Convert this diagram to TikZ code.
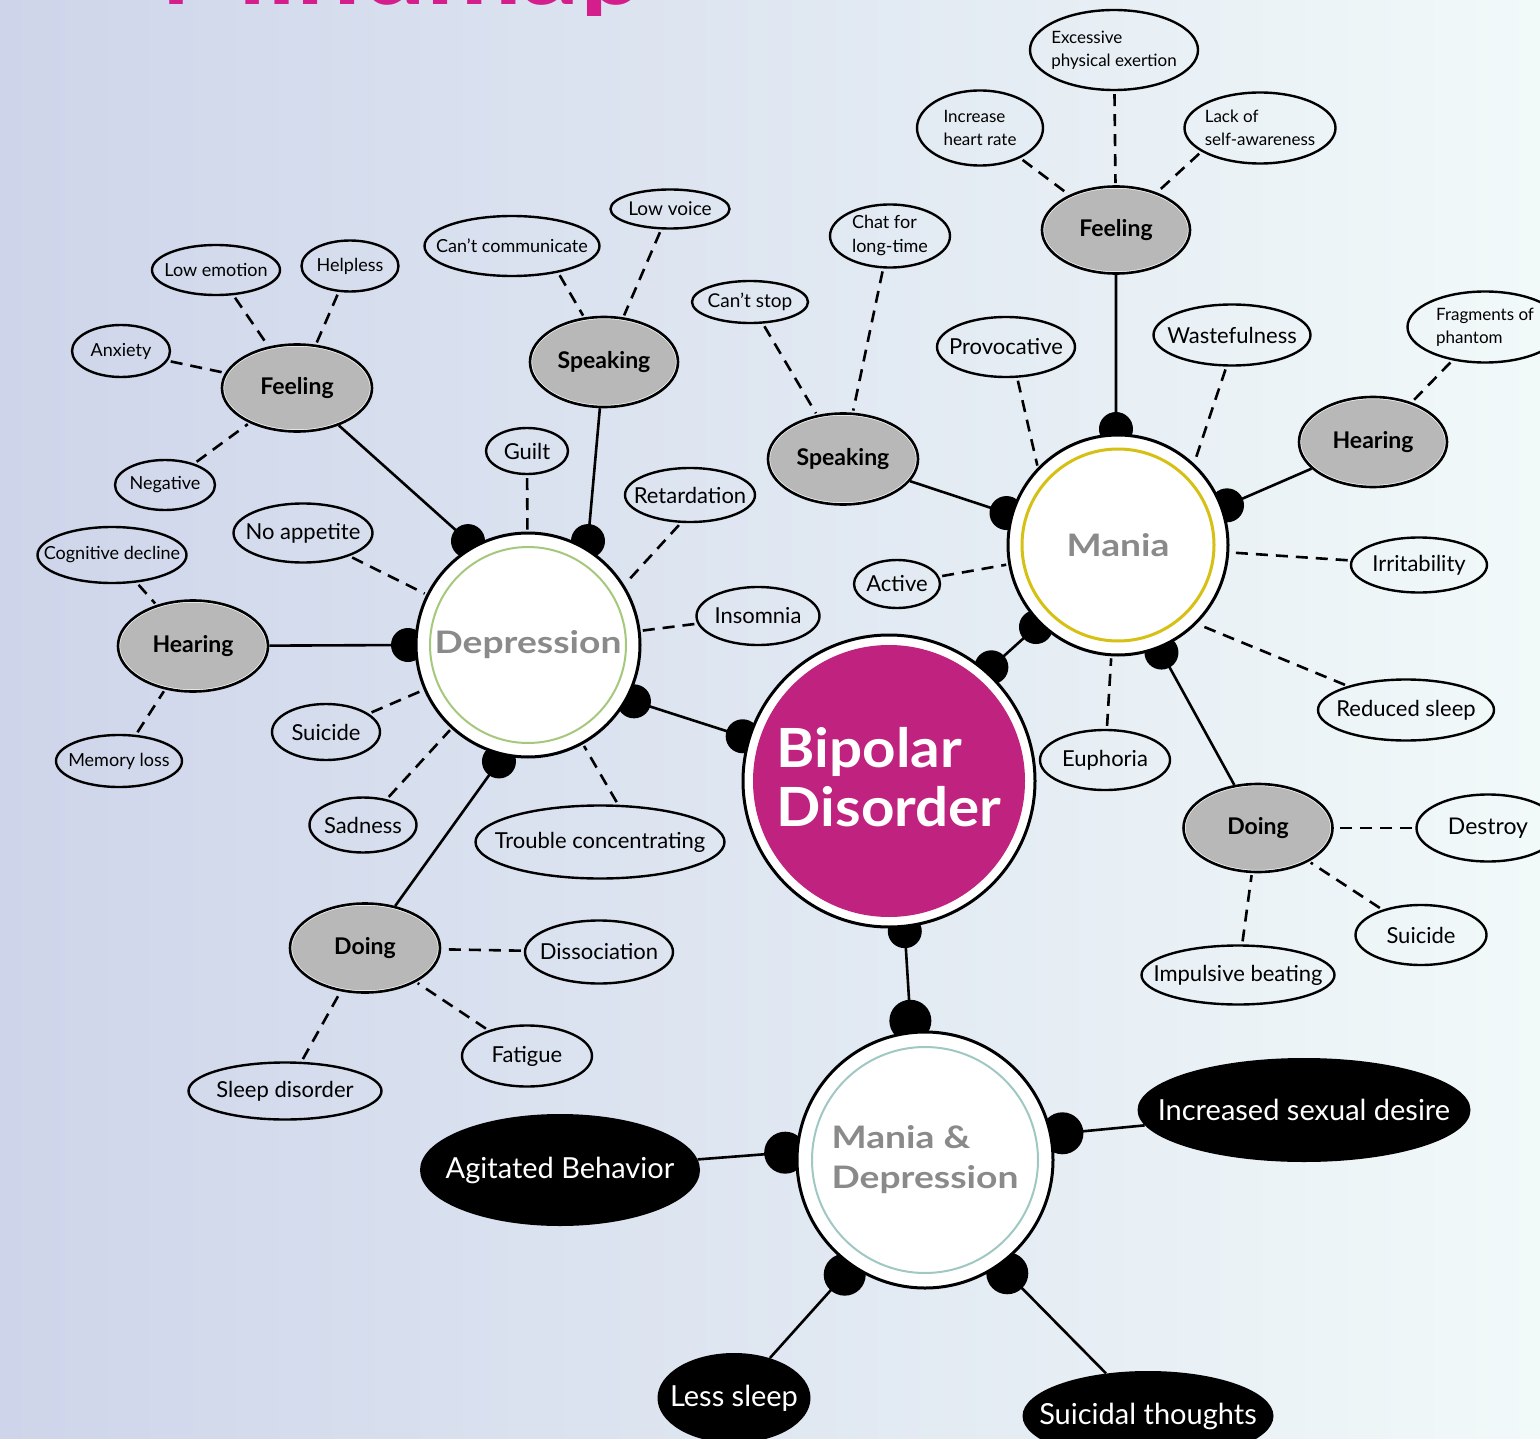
\documentclass[tikz,border=0pt]{standalone}
\usepackage{fontspec}
\usepackage{graphicx}
\setmainfont{Lato}
\usetikzlibrary{shapes.geometric,calc}

\definecolor{bgleft}{RGB}{206,213,234}
\definecolor{bgmid}{RGB}{223,237,243}
\definecolor{bgright}{RGB}{241,249,249}
\definecolor{subgray}{RGB}{184,184,184}
\definecolor{hubgray}{RGB}{138,138,138}
\definecolor{bipmag}{RGB}{192,34,128}
\definecolor{titlemag}{RGB}{212,30,140}
\definecolor{ringgreen}{RGB}{165,200,125}
\definecolor{ringyellow}{RGB}{214,192,20}
\definecolor{ringteal}{RGB}{160,200,195}

\pgfdeclarelayer{bg}
\pgfdeclarelayer{links}
\pgfsetlayers{bg,links,main}

% wide bold hub lettering
\newcommand\widehub[1]{\scalebox{1.2}[1]{#1}}

\tikzset{
  hub/.style={circle, draw=black, fill=white, line width=3pt, inner sep=0pt, text=hubgray},
  sub/.style={ellipse, draw=black, fill=subgray, line width=2.6pt, inner sep=-300pt,
    font=\bfseries\fontsize{23}{26}\selectfont,
    path picture={\draw[white, line width=4pt]
      let \p1=(path picture bounding box.north east), \p2=(path picture bounding box.center)
      in (\p2) ellipse ({\x1-\x2} and {\y1-\y2});}},
  leaf/.style={ellipse, draw=black, line width=2.4pt, inner sep=-300pt, align=left,
    font=\fontsize{22}{25}\selectfont},
  small/.style={font=\fontsize{18}{21}\selectfont},
  tiny/.style={font=\fontsize{17}{23}\selectfont},
  sym/.style={ellipse, fill=black, text=white, inner sep=-300pt, font=\fontsize{29}{32}\selectfont},
  link/.style={line width=2.6pt},
  dashlink/.style={line width=2.6pt, dash pattern=on 12pt off 8pt, shorten <=3pt, shorten >=2pt},
  knob/.style={fill=black},
}

\begin{document}
\begin{tikzpicture}[x=1pt, y=-1pt]
\useasboundingbox (0,0) rectangle (1540,1439);
\begin{pgfonlayer}{bg}
  \shade[left color=bgleft, middle color=bgmid, right color=bgright] (0,0) rectangle (1540,1439);
\end{pgfonlayer}
\clip (0,0) rectangle (1540,1439);

% heading, cut by the upper edge
\begin{scope}
  \clip (0,0) rectangle (1540,16);
  \node[anchor=base west, inner sep=0pt, text=titlemag,
    font=\bfseries\fontsize{110}{110}\selectfont] (title) at (160,5) {\scalebox{1.04}[1]{Mindmap}};
\end{scope}

% ---------- hubs ----------
\node[hub, minimum size=292pt, text=white,
  path picture={\fill[bipmag] (path picture bounding box.center) circle (136pt);},
  font=\bfseries\fontsize{54}{59}\selectfont] (bip) at (889,781)
  {\scalebox{1.08}[1]{\begin{tabular}{@{}l@{}}\rule{0pt}{49pt}Bipolar\\Disorder\end{tabular}}};
\node[hub, minimum size=224pt,
  path picture={\draw[ringgreen, line width=2pt] (path picture bounding box.center) circle (98pt);},
  font=\bfseries\fontsize{31}{36}\selectfont] (dep) at (528,645) {\widehub{Depression}};
\node[hub, minimum size=220pt,
  path picture={\draw[ringyellow, line width=3pt] (path picture bounding box.center) circle (96pt);},
  font=\bfseries\fontsize{31}{36}\selectfont] (mania) at (1118,545) {\widehub{Mania}};
\node[hub, minimum size=256pt,
  path picture={\draw[ringteal, line width=2pt] (path picture bounding box.center) circle (113pt);},
  font=\bfseries\fontsize{31}{40}\selectfont] (md) at (925,1160)
  {\widehub{\begin{tabular}{@{}l@{}}Mania \&\\Depression\end{tabular}}};

% ---------- depression branches ----------
\node[sub, minimum width=150pt, minimum height=87pt] (feelD) at (297,388) {Feeling};
\node[sub, minimum width=148pt, minimum height=90pt] (speakD) at (604,362) {Speaking};
\node[sub, minimum width=150pt, minimum height=91pt] (hearD) at (193,646) {Hearing};
\node[sub, minimum width=150pt, minimum height=89pt] (doD) at (365,948) {Doing};

\node[leaf, small, minimum width=128pt, minimum height=50pt] (lowemo) at (216,270) {Low emotion};
\node[leaf, small, minimum width=97pt, minimum height=51pt] (helpless) at (350,266) {Helpless};
\node[leaf, small, minimum width=98pt, minimum height=52pt] (anxiety) at (121,351) {Anxiety};
\node[leaf, small, minimum width=100pt, minimum height=50pt] (negative) at (165,485) {Negative};
\node[leaf, small, minimum width=175pt, minimum height=60pt] (cantcomm) at (512,246) {Can’t communicate};
\node[leaf, font=\fontsize{19}{22}\selectfont, minimum width=119pt, minimum height=39pt] (lowvoice) at (670,209) {Low voice};
\node[leaf, minimum width=82pt, minimum height=46pt] (guilt) at (527,451) {Guilt};
\node[leaf, minimum width=130pt, minimum height=54pt] (retard) at (690,495) {Retardation};
\node[leaf, minimum width=139pt, minimum height=59pt] (noapp) at (303,533) {No appetite};
\node[leaf, minimum width=123pt, minimum height=58pt] (insomnia) at (758,616) {Insomnia};
\node[leaf, small, minimum width=149pt, minimum height=56pt] (cogdec) at (112,555) {Cognitive decline};
\node[leaf, small, minimum width=126pt, minimum height=52pt] (memloss) at (119,761) {Memory loss};
\node[leaf, minimum width=108pt, minimum height=56pt] (suicideD) at (326,732) {Suicide};
\node[leaf, minimum width=107pt, minimum height=55pt] (sadness) at (363,825) {Sadness};
\node[leaf, minimum width=249pt, minimum height=73pt] (trouble) at (600,842) {Trouble concentrating};
\node[leaf, minimum width=148pt, minimum height=63pt] (dissoc) at (599,952) {Dissociation};
\node[leaf, minimum width=130pt, minimum height=61pt] (fatigue) at (527,1056) {Fatigue};
\node[leaf, minimum width=193pt, minimum height=57pt] (sleepdis) at (285,1091) {Sleep disorder};

% ---------- mania branches ----------
\node[sub, minimum width=148pt, minimum height=87pt] (feelM) at (1116,230) {Feeling};
\node[sub, minimum width=150pt, minimum height=91pt] (speakM) at (843,459) {Speaking};
\node[sub, minimum width=148pt, minimum height=90pt] (hearM) at (1373,442) {Hearing};
\node[sub, minimum width=149pt, minimum height=88pt] (doM) at (1258,828) {Doing};

\node[leaf, tiny, minimum width=168pt, minimum height=80pt] (excess) at (1114,50) {Excessive\\physical exertion};
\node[leaf, tiny, minimum width=126pt, minimum height=75pt] (heart) at (980,128) {Increase\\heart rate};
\node[leaf, tiny, minimum width=151pt, minimum height=71pt] (lack) at (1260,128) {Lack of\\self-awareness};
\node[leaf, font=\fontsize{18}{24}\selectfont, minimum width=120pt, minimum height=63pt] (chat) at (890,236) {Chat for\\long-time};
\node[leaf, font=\fontsize{19}{22}\selectfont, minimum width=116pt, minimum height=42pt] (cantstop) at (750,302) {Can’t stop};
\node[leaf, minimum width=138pt, minimum height=60pt] (prov) at (1006,347) {Provocative};
\node[leaf, minimum width=157pt, minimum height=61pt] (waste) at (1232,335) {Wastefulness};
\node[leaf, tiny, minimum width=155pt, minimum height=71pt] (fragm) at (1485,327) {Fragments of\\phantom};
\node[leaf, minimum width=86pt, minimum height=48pt] (active) at (897,584) {Active};
\node[leaf, minimum width=136pt, minimum height=55pt] (irrit) at (1419,565) {Irritability};
\node[leaf, minimum width=176pt, minimum height=61pt] (redsleep) at (1406,710) {Reduced sleep};
\node[leaf, minimum width=130pt, minimum height=60pt] (euphoria) at (1105,760) {Euphoria};
\node[leaf, font=\fontsize{23}{26}\selectfont, minimum width=143pt, minimum height=67pt] (destroy) at (1488,828) {Destroy};
\node[leaf, minimum width=131pt, minimum height=60pt] (suicideM) at (1421,935) {Suicide};
\node[leaf, minimum width=193pt, minimum height=59pt] (impulse) at (1238,975) {Impulsive beating};

% ---------- mixed episode ----------
\node[sym, minimum width=280pt, minimum height=112pt] (agit) at (560,1170) {Agitated Behavior};
\node[sym, minimum width=333pt, minimum height=104pt] (sexual) at (1304,1110) {Increased sexual desire};
\node[sym, minimum width=153pt, minimum height=90pt] (lesssleep) at (734,1398) {Less sleep};
\node[sym, minimum width=251pt, minimum height=90pt] (suicidal) at (1148,1416) {Suicidal thoughts};

% ---------- connectors ----------
\begin{pgfonlayer}{links}
  % attachment points on the hub rims
  \coordinate (kDfeel)  at ($(dep.center)+(120:120pt)$);
  \coordinate (kDspeak) at ($(dep.center)+(60:120pt)$);
  \coordinate (kDhear)  at ($(dep.center)+(180:120pt)$);
  \coordinate (kDdo)    at ($(dep.center)+(256:120pt)$);
  \coordinate (kDbip)   at ($(dep.center)+(-28:120pt)$);
  \coordinate (kBdep)   at ($(bip.center)+(163:153pt)$);
  \coordinate (kBman)   at ($(bip.center)+(48:153pt)$);
  \coordinate (kBmd)    at ($(bip.center)+(-84:151pt)$);
  \coordinate (kMfeel)  at ($(mania.center)+(91:116pt)$);
  \coordinate (kMhear)  at ($(mania.center)+(20:116pt)$);
  \coordinate (kMspeak) at ($(mania.center)+(164:116pt)$);
  \coordinate (kMdo)    at ($(mania.center)+(-68:116pt)$);
  \coordinate (kMbip)   at ($(mania.center)+(225:116pt)$);
  \coordinate (kXbip)   at ($(md.center)+(96:140pt)$);
  \coordinate (kXagit)  at ($(md.center)+(177:140pt)$);
  \coordinate (kXsex)   at ($(md.center)+(11:140pt)$);
  \coordinate (kXless)  at ($(md.center)+(235:140pt)$);
  \coordinate (kXsuic)  at ($(md.center)+(-54:140pt)$);

  % solid branches
  \draw[link] (kDfeel) -- (feelD);
  \draw[link] (kDspeak) -- (speakD);
  \draw[link] (kDhear) -- (hearD);
  \draw[link] (kDdo) -- (doD);
  \draw[link] (kDbip) -- (kBdep);
  \draw[link] (kBman) -- (kMbip);
  \draw[link] (kBmd) -- (kXbip);
  \draw[link] (kMfeel) -- (feelM);
  \draw[link] (kMhear) -- (hearM);
  \draw[link] (kMspeak) -- (speakM);
  \draw[link] (kMdo) -- (doM);
  \draw[link] (kXagit) -- (agit);
  \draw[link] (kXsex) -- (sexual);
  \draw[link] (kXless) -- (lesssleep);
  \draw[link] (kXsuic) -- (suicidal);

  % dashed symptom links
  \draw[dashlink] (lowemo) -- (feelD);
  \draw[dashlink] (helpless) -- (feelD);
  \draw[dashlink] (anxiety) -- (feelD);
  \draw[dashlink] (negative) -- (feelD);
  \draw[dashlink] (cantcomm.-30) -- (speakD.114);
  \draw[dashlink] (lowvoice) -- (speakD);
  \draw[dashlink] (cogdec) -- (hearD);
  \draw[dashlink] (memloss) -- (hearD);
  \draw[dashlink] (dissoc) -- (doD);
  \draw[dashlink] (fatigue) -- (doD);
  \draw[dashlink] (sleepdis) -- (doD);
  \draw[dashlink] (guilt) -- (dep);
  \draw[dashlink] (retard.-108) -- (dep.32);
  \draw[dashlink] (insomnia) -- (dep);
  \draw[dashlink] (trouble.64) -- (dep.-61);
  \draw[dashlink] (sadness) -- (dep);
  \draw[dashlink] (suicideD) -- (dep);
  \draw[dashlink] (noapp) -- (dep);

  \draw[dashlink] (excess) -- (feelM);
  \draw[dashlink] (heart) -- (feelM);
  \draw[dashlink] (lack.-158) -- (feelM);
  \draw[dashlink] (cantstop) -- (speakM);
  \draw[dashlink] (chat) -- (speakM);
  \draw[dashlink] (fragm) -- (hearM);
  \draw[dashlink] (destroy) -- (doM);
  \draw[dashlink] (suicideM) -- (doM);
  \draw[dashlink] (impulse) -- (doM);
  \draw[dashlink] (prov.-70) -- (mania.136);
  \draw[dashlink] (waste.-100) -- (mania.47);
  \draw[dashlink] (irrit) -- (mania);
  \draw[dashlink] (redsleep) -- (mania.-45);
  \draw[dashlink] (euphoria) -- (mania);
  \draw[dashlink] (active) -- (mania);

  % knobs where branches meet the hubs
  \foreach \k in {kDfeel,kDspeak,kDhear,kDdo,kDbip,kBdep,kBman,kBmd,kMfeel,kMhear,kMspeak,kMdo,kMbip}
    \fill[knob] (\k) circle (17pt);
  \foreach \k in {kXbip,kXagit,kXsex,kXless,kXsuic}
    \fill[knob] (\k) circle (21pt);
\end{pgfonlayer}
\end{tikzpicture}
\end{document}
